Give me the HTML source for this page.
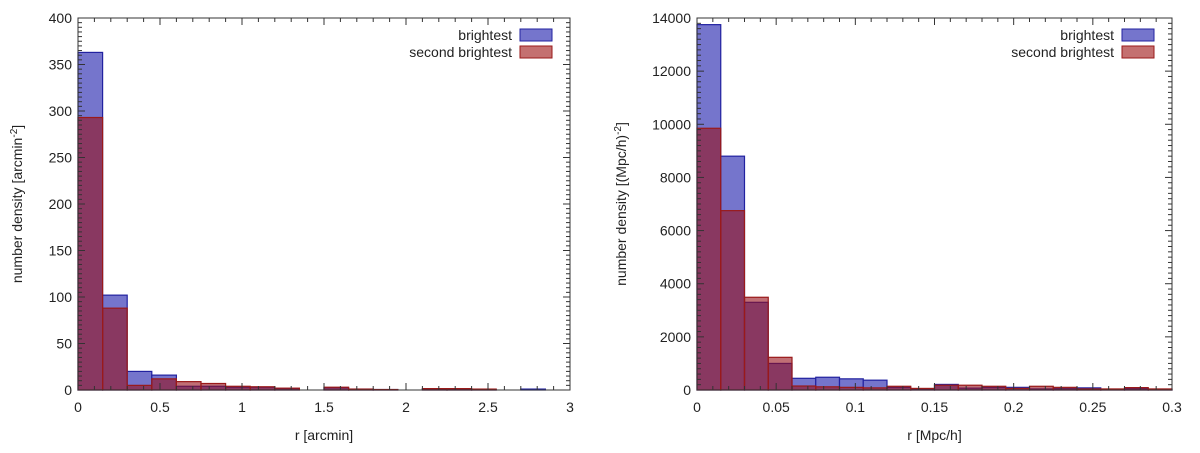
<!DOCTYPE html>
<html><head><meta charset="utf-8"><style>
body{margin:0;background:#fff;width:1200px;height:448px;overflow:hidden}
svg text{font-family:"Liberation Sans",Arial,sans-serif;fill:#222}
</style></head><body>
<svg id="chart" width="1200" height="448" xmlns="http://www.w3.org/2000/svg"></svg>
<script>
const leftBlue=[363,102,20,16,4,4,3,3,1.5,0,2.5,1,0.5,0,1,1,0.5,0,1,0];
const leftRed=[293,88,5,12,9,7,4,3.5,2,0,3,1,0.5,0,1.5,1.5,1,0,0,0];
const rightBlue=[13750,8800,3300,1000,440,480,420,370,100,40,210,70,100,100,40,50,80,20,50,20];
const rightRed=[9850,6750,3490,1230,150,120,100,80,140,60,180,180,140,60,140,100,40,40,90,40];
const leftXTicks=[0,0.5,1,1.5,2,2.5,3];
const leftXTickLabels=["0","0.5","1","1.5","2","2.5","3"];
const leftYTicks=[0,50,100,150,200,250,300,350,400];
const rightXTicks=[0,0.05,0.1,0.15,0.2,0.25,0.3];
const rightXTickLabels=["0","0.05","0.1","0.15","0.2","0.25","0.3"];
const rightYTicks=[0,2000,4000,6000,8000,10000,12000,14000];

const svg=document.getElementById('chart');
const NS="http://www.w3.org/2000/svg";
function mk(tag,attrs,parent){const e=document.createElementNS(NS,tag);for(const k in attrs)e.setAttribute(k,attrs[k]);(parent||svg).appendChild(e);return e;}

function panel(cfg){
  const g=mk('g',{});
  
  
  const {x0,x1,y0,y1,xmax,ymax}=cfg;
  const sx=v=>x0+(v/xmax)*(x1-x0);
  const sy=v=>y1-(v/ymax)*(y1-y0);
  const bw=xmax/cfg.blue.length;
  cfg.blue.forEach((v,i)=>{ if(v<=0)return;
    const r=mk('rect',{x:sx(i*bw),y:sy(v),width:sx((i+1)*bw)-sx(i*bw),height:y1-sy(v),fill:'rgb(117,117,204)',stroke:'#2222a0','stroke-width':1.2},g);
    
    
  });
  cfg.red.forEach((v,i)=>{ if(v<=0)return;
    const r=mk('rect',{x:sx(i*bw),y:sy(v),width:sx((i+1)*bw)-sx(i*bw),height:y1-sy(v),fill:'rgba(150,15,25,0.6)',stroke:'#9a1a1a','stroke-width':1.2},g);
    
    
  });
  mk('rect',{x:x0,y:y0,width:x1-x0,height:y1-y0,fill:'none',stroke:'#333','stroke-width':1},g);
  // x ticks
  cfg.xt.forEach((t,i)=>{
    const x=sx(t);
    mk('line',{x1:x,x2:x,y1:y1,y2:y1-7,stroke:'#333'},g);
    mk('line',{x1:x,x2:x,y1:y0,y2:y0+7,stroke:'#333'},g);
    const tx=mk('text',{x:x,y:y1+22,'font-size':14,'text-anchor':'middle'},g);
    tx.textContent=cfg.xl[i];
    
    
    if(i<cfg.xt.length-1){for(let k=1;k<5;k++){const xm=sx(t+(cfg.xt[1]-cfg.xt[0])*k/5);
      mk('line',{x1:xm,x2:xm,y1:y1,y2:y1-4,stroke:'#333'},g);mk('line',{x1:xm,x2:xm,y1:y0,y2:y0+4,stroke:'#333'},g);}}
  });
  cfg.yt.forEach((t,i)=>{
    const y=sy(t);
    mk('line',{x1:x0,x2:x0+7,y1:y,y2:y,stroke:'#333'},g);
    mk('line',{x1:x1,x2:x1-7,y1:y,y2:y,stroke:'#333'},g);
    const tx=mk('text',{x:x0-6,y:y+5,'font-size':14,'text-anchor':'end'},g);
    tx.textContent=String(t);
    
    
    if(i<cfg.yt.length-1){for(let k=1;k<10;k++){const ym=sy(t+(cfg.yt[1]-cfg.yt[0])*k/10);
      mk('line',{x1:x0,x2:x0+4,y1:ym,y2:ym,stroke:'#333'},g);mk('line',{x1:x1,x2:x1-4,y1:ym,y2:ym,stroke:'#333'},g);}}
  });
  const xl=mk('text',{x:(x0+x1)/2,y:440,'font-size':14,'text-anchor':'middle'},g);
  xl.textContent=cfg.xlabel;
  
  
  const yl=mk('text',{x:0,y:0,'font-size':14,'text-anchor':'middle',transform:`translate(${cfg.ylx},${(y0+y1)/2}) rotate(-90)`},g);
  yl.innerHTML=cfg.ylabel;
  
  
  // legend
  [['brightest','rgb(117,117,204)','#2222a0',35],['second brightest','rgb(196,112,112)','#9a1a1a',52]].forEach(([lab,f,s,y])=>{
    const t=mk('text',{x:x1-58,y:y+5,'font-size':14,'text-anchor':'end'},g);
    t.textContent=lab;
    
    
    mk('rect',{x:x1-50,y:y-6,width:32,height:12,fill:f,stroke:s,'stroke-width':1},g);
  });
}
panel({name:'left-panel',x0:78,x1:570,y0:18,y1:390,xmax:3,ymax:400,blue:leftBlue,red:leftRed,xt:leftXTicks,xl:leftXTickLabels,yt:leftYTicks,xlabel:'r [arcmin]',ylx:22,ylabel:'number density [arcmin<tspan dy="-5" font-size="10">-2</tspan><tspan dy="5">]</tspan>'});
panel({name:'right-panel',x0:697,x1:1172,y0:18,y1:390,xmax:0.3,ymax:14000,blue:rightBlue,red:rightRed,xt:rightXTicks,xl:rightXTickLabels,yt:rightYTicks,xlabel:'r [Mpc/h]',ylx:626,ylabel:'number density [(Mpc/h)<tspan dy="-5" font-size="10">-2</tspan><tspan dy="5">]</tspan>'});
</script>
</body></html>
